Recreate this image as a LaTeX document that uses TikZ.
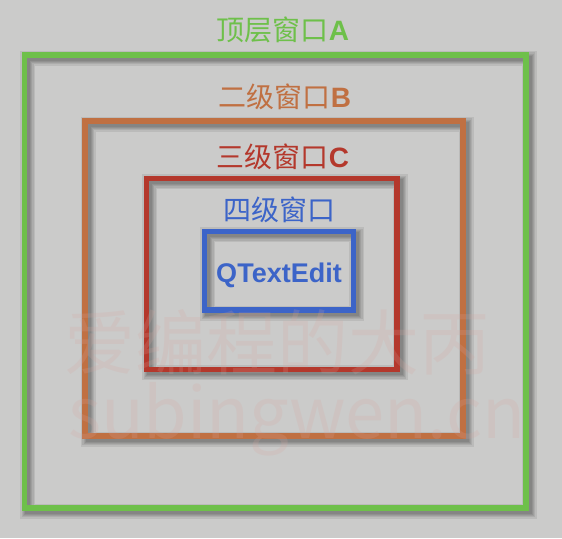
\documentclass[tikz,border=0pt]{standalone}
\usepackage{fontspec}
\setmainfont{Liberation Sans}
\newfontfamily\cjk{Noto Sans CJK SC}
\usetikzlibrary{positioning}

\definecolor{bgray}{RGB}{203,203,202}
\definecolor{wingreen}{RGB}{110,192,74}
\definecolor{winorange}{RGB}{192,112,66}
\definecolor{winred}{RGB}{180,56,44}
\definecolor{winblue}{RGB}{60,100,200}
\definecolor{markpink}{RGB}{215,165,158}

\tikzset{
  winframe/.style={line width=5.5pt},
  winshadow/.style={black, opacity=0.08, shift={(3,3)}},
  winlabel/.style={font=\fontsize{28}{28}\selectfont, inner sep=0pt, anchor=base},
}

\begin{document}
\begin{tikzpicture}[x=1pt, y=-1pt]
            \useasboundingbox (0,0) rectangle (562,538);
            \fill[bgray] (0,0) rectangle (562,538);

            % the four nested windows
            \foreach \name/\xa/\ya/\xb/\yb/\col in {A/24.5/55/526/508/wingreen, B/85/121/463/436/winorange, C/146.5/178.5/397/369.5/winred, D/204.5/231.5/353.5/310/winblue} {
                \foreach \w in {15,12,9,7,5}
                    \draw[winshadow, line width=\w pt] (\xa,\ya) rectangle (\xb,\yb);
                \draw[winframe, \col] (\xa,\ya) rectangle (\xb,\yb);
            }

            \node[winlabel, wingreen] (labA) at (283,40) {{\cjk 顶层窗口}\textbf{A}};
            \node[winlabel, winorange] (labB) at (285,107) {{\cjk 二级窗口}\textbf{B}};
            \node[winlabel, winred] (labC) at (283,167) {{\cjk 三级窗口}\textbf{C}};
            \node[winlabel, winblue] (labD) at (279.5,220) {\cjk 四级窗口};
            \node[winlabel, winblue, font=\fontsize{27}{27}\selectfont\bfseries] (edit) at (279,282) {QTextEdit};

            % watermark
            \node[markpink, opacity=0.2, inner sep=0pt, anchor=base, font=\cjk\fontsize{71}{71}\selectfont] (markcn) at (277.5,369) {爱编程的大丙};
            \node[markpink, opacity=0.2, inner sep=0pt, anchor=base west, font=\cjk\fontsize{70.5}{70.5}\selectfont] (markurl) at (68,438) {subingwen.cn};
        \end{tikzpicture}
\end{document}
